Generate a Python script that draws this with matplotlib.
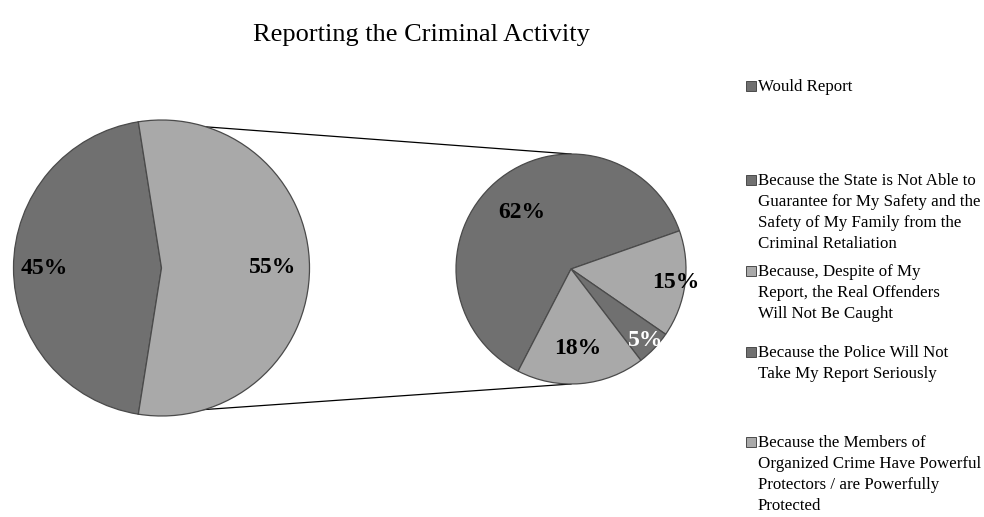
"""Pie-of-pie: reporting the criminal activity."""

import matplotlib.pyplot as plt
import numpy as np

plt.rcParams["font.family"] = ["Liberation Serif", "DejaVu Serif"]

TITLE = "Reporting the Criminal Activity"

# main pie
MAIN_LABELS = ["Would Report", "Would Not Report"]
MAIN_VALUES = [45, 55]

# breakdown of the "would not report" slice
SUB_LABELS = [
    "Because the State is Not Able to\nGuarantee for My Safety and the\n"
    "Safety of My Family from the\nCriminal Retaliation",
    "Because, Despite of My\nReport, the Real Offenders\nWill Not Be Caught",
    "Because the Police Will Not\nTake My Report Seriously",
    "Because the Members of\nOrganized Crime Have Powerful\n"
    "Protectors / are Powerfully\nProtected",
]
SUB_VALUES = [62, 15, 5, 18]

DARK = "#707070"
LIGHT = "#a9a9a9"
EDGE = "#4a4a4a"

W, H = 984, 517

fig = plt.figure(figsize=(W / 100, H / 100), dpi=100)
ax = fig.add_axes([0, 0, 1, 1])
ax.axis("off")

# left pie: the "other" slice is centred on the right-hand side
c1, r1 = (161.5, H - 268), 148
frac0 = MAIN_VALUES[0] / sum(MAIN_VALUES)
start1 = 360 - 360 * frac0 - 180 * (1 - frac0)
w1, _ = ax.pie(
    MAIN_VALUES,
    colors=[DARK, LIGHT],
    center=c1,
    radius=r1,
    startangle=start1,
    counterclock=True,
    wedgeprops=dict(edgecolor=EDGE, linewidth=0.9),
)

# right pie
c2, r2 = (571, H - 269), 115
w2, _ = ax.pie(
    SUB_VALUES,
    colors=[DARK, LIGHT, DARK, LIGHT],
    center=c2,
    radius=r2,
    startangle=242.6,
    counterclock=False,
    wedgeprops=dict(edgecolor=EDGE, linewidth=0.9),
)
ax.set_xlim(0, W)
ax.set_ylim(0, H)
ax.set_aspect("equal")


def put_labels(wedges, values, center, radius, fracs, colors):
    total = sum(values)
    for w, v, f, col in zip(wedges, values, fracs, colors):
        mid = np.deg2rad((w.theta1 + w.theta2) / 2)
        x = center[0] + f * radius * np.cos(mid)
        y = center[1] + f * radius * np.sin(mid)
        ax.text(x, y, f"{100 * v / total:.0f}%", ha="center", va="center",
                fontsize=17, fontweight="bold", color=col)


put_labels(w1, MAIN_VALUES, c1, r1, [0.79, 0.75], ["black", "black"])
put_labels(w2, SUB_VALUES, c2, r2, [0.65, 0.92, 0.9, 0.69],
           ["black", "black", "white", "black"])

# connector lines from the edges of the split slice to the second pie
other = w1[1]
for ang, ey in [(other.theta1, c2[1] - r2), (other.theta2, c2[1] + r2)]:
    a = np.deg2rad(ang)
    sx = c1[0] + r1 * np.cos(a)
    sy = c1[1] + r1 * np.sin(a)
    ax.plot([sx, c2[0]], [sy, ey], color="black", lw=0.9, zorder=0)

ax.text(421, H - 35, TITLE, ha="center", va="center", fontsize=19)

# legend drawn by hand (multi-line entries)
leg_labels = [MAIN_LABELS[0]] + SUB_LABELS
leg_colors = [DARK, DARK, LIGHT, DARK, LIGHT]
leg_y = [86, 180, 271, 352, 442]
for lab, col, y in zip(leg_labels, leg_colors, leg_y):
    ax.plot(751, H - y, marker="s", ms=6.5, color=col, mec=EDGE, mew=0.7)
    ax.text(758, H - y + 7, lab, ha="left", va="top", fontsize=12.2,
            linespacing=1.42)

fig.savefig("out.png", dpi=100)
